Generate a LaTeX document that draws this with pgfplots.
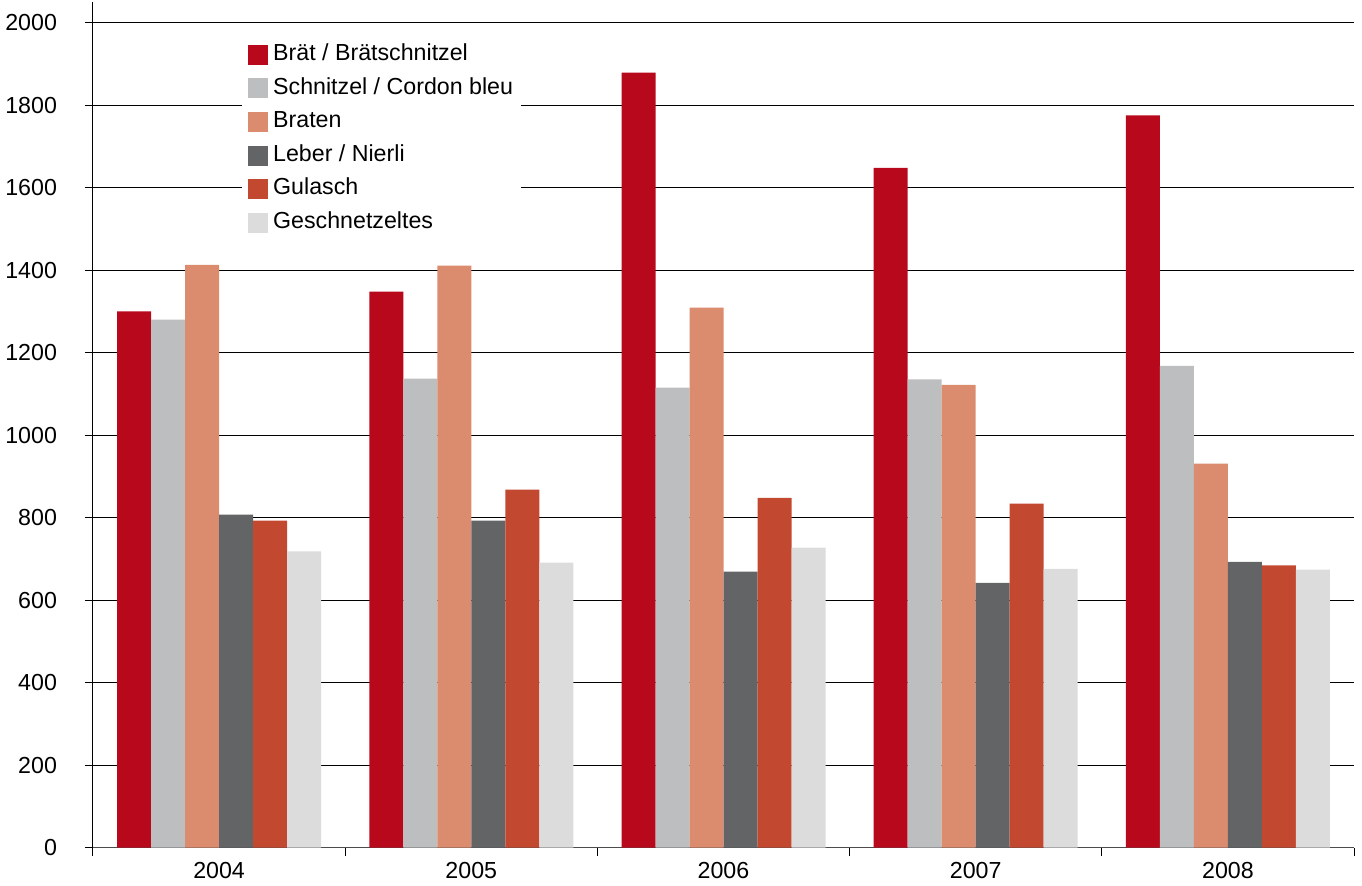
\documentclass[border=0pt]{standalone}
\usepackage{fontspec}
\setmainfont{Liberation Sans}
\usepackage{pgfplots}
\pgfplotsset{compat=1.18}
\usetikzlibrary{calc}

\definecolor{brat}{RGB}{183,8,28}
\definecolor{schnitzel}{RGB}{189,190,192}
\definecolor{braten}{RGB}{219,140,111}
\definecolor{leber}{RGB}{99,100,102}
\definecolor{gulasch}{RGB}{195,72,48}
\definecolor{geschn}{RGB}{220,220,220}

\begin{document}
\begin{tikzpicture}
\begin{axis}[
    scale only axis,
    width=630.5pt, height=422.8pt,
    xmin=-0.5, xmax=4.5,
    ymin=0, ymax=2050,
    ybar=0pt, bar width=17pt,
    axis x line*=bottom, axis y line*=left,
    x axis line style={-, draw=black!70, line width=0.6pt},
    y axis line style={-, draw=black, line width=0.5pt},
    xtick={-0.5,0.5,1.5,2.5,3.5,4.5},
    xticklabels={2004,2005,2006,2007,2008},
    x tick label as interval,
    ytick={0,200,...,2000},
    ymajorgrids,
    grid style={draw=black, line width=0.5pt},
    tick align=outside,
    major tick length=4pt,
    tick style={draw=black, line width=0.5pt},
    tick label style={font=\fontsize{11.6}{13.5}\selectfont},
    yticklabel style={xshift=-10.5pt},
    /pgf/number format/assume math mode=true,
    /pgf/number format/1000 sep={},
    legend cell align=left,
    legend style={at={(rel axis cs:0.118,0.958)}, anchor=north west,
        draw=none, fill=white, inner xsep=3pt, inner ysep=2pt,
        font=\fontsize{11.6}{13.5}\selectfont, row sep=4pt,
        nodes={inner sep=1pt, text height=8.3pt, text depth=2.5pt}},
    legend image code/.code={\fill[#1] (0pt,-5pt) rectangle (10pt,5pt); \path (11.5pt,0pt);},
]
\addplot[fill=brat, draw=none] coordinates {(0,1300) (1,1348) (2,1879) (3,1648) (4,1775)};
\addplot[fill=schnitzel, draw=none] coordinates {(0,1280) (1,1137) (2,1115) (3,1135) (4,1168)};
\addplot[fill=braten, draw=none] coordinates {(0,1413) (1,1411) (2,1309) (3,1122) (4,931)};
\addplot[fill=leber, draw=none] coordinates {(0,807) (1,793) (2,669) (3,642) (4,693)};
\addplot[fill=gulasch, draw=none] coordinates {(0,793) (1,868) (2,848) (3,834) (4,684)};
\addplot[fill=geschn, draw=none] coordinates {(0,718) (1,691) (2,727) (3,676) (4,674)};
\legend{Brät / Brätschnitzel, Schnitzel / Cordon bleu, Braten, Leber / Nierli, Gulasch, Geschnetzeltes}
\end{axis}
\pgfresetboundingbox
\path[use as bounding box] ($(current axis.south west)+(-46.5pt,-19pt)$) rectangle ($(current axis.north east)+(4pt,1pt)$);
\end{tikzpicture}
\end{document}
